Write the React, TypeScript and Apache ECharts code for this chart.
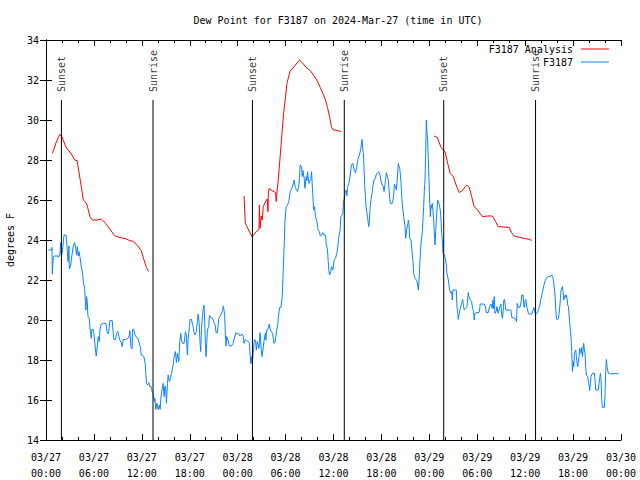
import React, { useEffect, useRef } from "react";
import * as echarts from "echarts";

const FONT = "DejaVu Sans Mono";

const titleText = "Dew Point for F3187 on 2024-Mar-27 (time in UTC)";
const yAxisName = "degrees F";

// x tick labels every 6 h from 03/27 00:00 UTC
const xTickLabels = [
  "03/27\n00:00", "03/27\n06:00", "03/27\n12:00", "03/27\n18:00",
  "03/28\n00:00", "03/28\n06:00", "03/28\n12:00", "03/28\n18:00",
  "03/29\n00:00", "03/29\n06:00", "03/29\n12:00", "03/29\n18:00",
  "03/30\n00:00",
];

// sun events, hours since 03/27 00:00 UTC
const sunHours = [1.93, 13.4, 25.85, 37.35, 49.8, 61.3];
const sunLabels = ["Sunset", "Sunrise", "Sunset", "Sunrise", "Sunset", "Sunrise"];

// F3187 Analysis, three segments: [hour, degF]
const analysisSeg1 = [
  [0.79, 28.33], [1.0, 28.55], [1.25, 28.85], [1.5, 29.1], [1.75, 29.28], [2.0, 29.15],
  [2.25, 28.9], [2.5, 28.65], [2.67, 28.55], [3.0, 28.4], [3.33, 28.2], [3.58, 28.0],
  [3.9, 27.97], [4.08, 27.5], [4.25, 27.08], [4.42, 26.67], [4.67, 26.0], [5.08, 25.83],
  [5.3, 25.5], [5.5, 25.17], [5.8, 25.0], [6.3, 25.0], [6.92, 25.05], [7.2, 24.95],
  [7.46, 24.83], [8.0, 24.55], [8.58, 24.22], [9.13, 24.13], [9.96, 24.07], [10.5, 23.97],
  [10.92, 23.93], [11.5, 23.7], [11.92, 23.47], [12.25, 23.03], [12.58, 22.62], [12.83, 22.42],
];
const analysisSeg2 = [
  [24.8, 26.2], [24.87, 25.53], [24.96, 24.83], [25.37, 24.5], [25.8, 24.17], [26.1, 24.3],
  [26.33, 24.42], [26.67, 24.53], [26.72, 25.75], [26.8, 24.6], [26.96, 25.2], [27.08, 25.0],
  [27.2, 25.67], [27.46, 25.9], [27.7, 26.05], [27.79, 25.42], [27.85, 26.4], [27.96, 26.58],
  [28.3, 26.47], [28.75, 26.37], [28.83, 25.92], [28.92, 26.4], [29.08, 27.0], [29.25, 27.83],
  [29.42, 28.67], [29.58, 29.5], [29.75, 30.33], [30.0, 31.17], [30.17, 31.83], [30.33, 32.08],
  [30.58, 32.47], [30.92, 32.58], [31.33, 32.8], [31.75, 33.0], [32.08, 32.87], [32.58, 32.63],
  [33.08, 32.47], [33.5, 32.25], [33.92, 32.0], [34.33, 31.63], [34.67, 31.33], [35.0, 31.0],
  [35.25, 30.63], [35.5, 30.17], [35.75, 29.63], [36.0, 29.5], [36.5, 29.47], [36.92, 29.43],
];
const analysisSeg3 = [
  [48.6, 29.2], [49.0, 29.13], [49.25, 28.85], [49.54, 28.58], [49.96, 28.42], [50.3, 27.83],
  [50.6, 27.33], [51.0, 27.17], [51.46, 26.63], [51.75, 26.37], [52.2, 26.5], [52.5, 26.67],
  [52.7, 26.75], [53.0, 26.63], [53.3, 26.17], [53.6, 25.67], [54.0, 25.53], [54.3, 25.35],
  [54.67, 25.17], [55.3, 25.2], [55.9, 25.2], [56.3, 24.92], [56.6, 24.67], [58.0, 24.63],
  [58.3, 24.37], [58.6, 24.2], [59.3, 24.13], [59.9, 24.08], [60.5, 24.03], [60.83, 23.98],
];

// F3187 observations: [hour, degF]
const observed = [
  [0.3, 23.5], [0.7, 23.5], [0.75, 23.63], [0.79, 22.3], [0.92, 23.17], [1.08, 23.2], [1.5, 23.2],
  [1.58, 23.13], [1.75, 23.33], [1.83, 23.87], [1.92, 23.2], [2.04, 23.37], [2.17, 23.87], [2.25, 24.25],
  [2.5, 24.25], [2.58, 24.0], [2.67, 23.42], [2.75, 22.92], [2.88, 23.7], [2.92, 22.55], [3.08, 22.7],
  [3.25, 23.25], [3.42, 23.7], [3.58, 23.87], [3.75, 23.53], [3.83, 23.25], [3.92, 23.67], [4.04, 23.2],
  [4.13, 23.42], [4.25, 23.17], [4.42, 22.67], [4.58, 22.33], [4.67, 21.92], [4.83, 21.58], [4.92, 21.0],
  [5.0, 20.5], [5.08, 21.17], [5.17, 20.92], [5.25, 20.17], [5.42, 20.08], [5.5, 19.63], [5.67, 19.08],
  [5.75, 19.53], [5.92, 19.53], [6.0, 19.33], [6.08, 19.0], [6.2, 18.5], [6.29, 18.2], [6.42, 18.67],
  [6.54, 19.17], [6.67, 18.92], [6.75, 19.5], [6.92, 19.8], [7.17, 19.83], [7.5, 19.83], [7.58, 19.58],
  [7.67, 19.33], [7.83, 19.33], [7.92, 19.7], [8.0, 19.97], [8.29, 19.97], [8.42, 19.33], [8.5, 19.03],
  [8.71, 19.03], [8.83, 19.33], [9.0, 19.43], [9.13, 19.17], [9.25, 19.0], [9.42, 18.87], [9.54, 18.67],
  [9.67, 19.03], [9.96, 19.03], [10.25, 19.07], [10.42, 19.2], [10.5, 19.47], [10.58, 19.0], [10.67, 18.58],
  [10.79, 18.58], [10.83, 19.53], [11.0, 19.53], [11.08, 19.33], [11.25, 19.17], [11.42, 19.13], [11.58, 19.0],
  [11.75, 18.7], [11.83, 18.67], [11.92, 18.25], [12.17, 18.2], [12.25, 18.17], [12.42, 17.83], [12.5, 17.33],
  [12.58, 16.83], [12.75, 16.75], [12.88, 16.87], [13.0, 16.67], [13.17, 16.67], [13.29, 16.42], [13.42, 16.33],
  [13.58, 15.92], [13.63, 16.08], [13.75, 15.53], [13.88, 15.83], [14.04, 15.53], [14.2, 15.75], [14.29, 15.53],
  [14.38, 16.08], [14.54, 16.58], [14.67, 16.83], [14.79, 16.17], [14.875, 16.67], [14.96, 16.7], [15.08, 15.83],
  [15.21, 16.83], [15.29, 17.25], [15.46, 16.92], [15.58, 17.08], [15.71, 17.33], [15.92, 17.75], [16.04, 18.17],
  [16.2, 18.42], [16.33, 17.87], [16.46, 18.33], [16.625, 17.92], [16.75, 18.92], [16.875, 19.33], [16.96, 19.0],
  [17.125, 18.83], [17.29, 18.83], [17.46, 19.42], [17.58, 19.2], [17.71, 18.25], [17.79, 19.0], [17.96, 19.67],
  [18.04, 20.03], [18.21, 20.03], [18.42, 19.67], [18.54, 19.37], [18.625, 19.25], [18.79, 19.37], [18.96, 19.92],
  [19.04, 20.3], [19.17, 19.92], [19.29, 18.83], [19.375, 18.42], [19.46, 19.5], [19.58, 20.17], [19.71, 20.58],
  [19.79, 20.75], [19.875, 19.83], [19.96, 18.83], [20.04, 18.17], [20.125, 18.83], [20.21, 19.5], [20.375, 19.67],
  [20.46, 20.23], [20.54, 20.2], [20.71, 20.08], [20.875, 20.08], [21.04, 19.87], [21.21, 19.7], [21.29, 19.37],
  [21.46, 19.37], [21.54, 19.67], [21.625, 20.08], [21.79, 20.17], [21.96, 20.33], [22.125, 20.47], [22.2, 20.7],
  [22.29, 20.5], [22.375, 20.17], [22.46, 19.33], [22.54, 18.7], [22.625, 19.17], [22.79, 19.0], [22.96, 18.7],
  [23.21, 18.7], [23.42, 18.83], [23.625, 19.17], [23.79, 19.37], [23.96, 19.3], [24.125, 19.33], [24.29, 19.2],
  [24.54, 19.3], [24.71, 19.17], [24.79, 18.83], [24.96, 19.03], [25.125, 18.97], [25.29, 18.92], [25.46, 18.87],
  [25.54, 18.42], [25.625, 17.83], [25.71, 18.17], [25.79, 17.83], [25.875, 18.0], [25.96, 18.37], [26.04, 18.83],
  [26.125, 19.03], [26.25, 18.97], [26.33, 18.5], [26.46, 18.92], [26.54, 18.8], [26.67, 18.58], [26.8, 19.37],
  [26.875, 19.0], [26.96, 18.5], [27.04, 18.17], [27.17, 18.5], [27.29, 18.92], [27.46, 19.33], [27.54, 19.0],
  [27.625, 19.5], [27.79, 19.53], [27.96, 19.8], [28.04, 19.58], [28.21, 19.42], [28.375, 19.33], [28.54, 18.83],
  [28.7, 18.9], [28.85, 19.4], [29.04, 19.83], [29.125, 20.25], [29.25, 20.63], [29.42, 20.63], [29.58, 21.17],
  [29.67, 22.08], [29.83, 23.83], [29.92, 24.92], [30.08, 25.67], [30.25, 25.75], [30.42, 25.97], [30.58, 26.42],
  [30.75, 26.53], [30.92, 26.75], [31.08, 27.0], [31.21, 26.63], [31.33, 26.53], [31.5, 26.42], [31.67, 26.75],
  [31.83, 27.75], [32.0, 27.67], [32.08, 27.17], [32.17, 27.47], [32.33, 27.08], [32.42, 26.58], [32.58, 27.17],
  [32.67, 26.97], [32.75, 27.42], [32.92, 26.83], [33.0, 26.92], [33.17, 27.03], [33.25, 27.42], [33.33, 26.83],
  [33.42, 26.17], [33.5, 25.5], [33.625, 25.67], [33.75, 25.17], [33.92, 24.92], [34.08, 24.5], [34.25, 24.42],
  [34.33, 24.2], [34.5, 24.25], [34.67, 24.37], [34.79, 24.25], [35.0, 24.25], [35.08, 23.83], [35.25, 23.5],
  [35.33, 23.0], [35.42, 22.5], [35.5, 22.25], [35.67, 22.42], [35.75, 22.67], [35.92, 22.5], [36.08, 23.0],
  [36.25, 23.08], [36.42, 23.33], [36.54, 23.67], [36.67, 24.17], [36.83, 24.5], [36.92, 25.17], [37.08, 25.25],
  [37.17, 25.33], [37.25, 25.92], [37.33, 26.03], [37.42, 26.33], [37.58, 26.5], [37.67, 26.2], [37.75, 26.63],
  [37.92, 26.83], [38.08, 27.2], [38.25, 27.75], [38.42, 27.83], [38.58, 27.5], [38.75, 27.37], [38.92, 27.67],
  [39.08, 28.08], [39.25, 28.25], [39.42, 28.58], [39.58, 29.03], [39.67, 28.5], [39.75, 28.33], [39.83, 27.5],
  [39.92, 26.67], [40.0, 26.17], [40.08, 25.67], [40.17, 25.37], [40.25, 25.17], [40.33, 24.92], [40.42, 24.67],
  [40.5, 25.0], [40.58, 25.58], [40.71, 26.08], [40.83, 26.33], [40.92, 26.67], [41.08, 27.0], [41.25, 27.08],
  [41.33, 27.25], [41.54, 27.37], [41.67, 27.42], [41.83, 27.25], [41.92, 27.0], [42.08, 26.75], [42.25, 26.67],
  [42.33, 26.42], [42.46, 26.8], [42.625, 27.37], [42.75, 27.17], [42.875, 27.0], [42.96, 26.5], [43.04, 26.08],
  [43.125, 25.83], [43.29, 25.8], [43.46, 26.0], [43.54, 26.3], [43.625, 26.8], [43.79, 26.63], [43.875, 26.5],
  [43.96, 26.92], [44.04, 27.42], [44.125, 27.83], [44.21, 27.67], [44.29, 27.58], [44.375, 27.25], [44.46, 26.83],
  [44.54, 26.17], [44.625, 25.75], [44.79, 25.17], [44.96, 24.67], [45.04, 24.08], [45.17, 24.53], [45.29, 24.75],
  [45.375, 25.0], [45.46, 24.75], [45.54, 24.08], [45.71, 24.0], [45.83, 23.42], [45.96, 22.92], [46.04, 22.33],
  [46.21, 22.08], [46.375, 22.0], [46.46, 21.92], [46.54, 21.75], [46.625, 21.5], [46.71, 22.0], [46.79, 22.67],
  [46.875, 23.33], [46.96, 23.83], [47.125, 24.42], [47.29, 25.67], [47.375, 26.5], [47.46, 27.0], [47.54, 28.33],
  [47.625, 30.0], [47.71, 29.33], [47.79, 28.92], [47.875, 28.0], [47.96, 27.0], [48.04, 26.0], [48.125, 25.17],
  [48.21, 25.75], [48.29, 25.58], [48.375, 25.83], [48.46, 25.42], [48.54, 25.0], [48.625, 24.33], [48.71, 23.75],
  [48.79, 24.42], [48.875, 25.0], [48.96, 25.5], [49.04, 26.0], [49.125, 26.0], [49.21, 25.83], [49.29, 25.67],
  [49.375, 25.5], [49.46, 25.0], [49.54, 24.33], [49.625, 24.0], [49.71, 23.33], [49.875, 23.25], [50.04, 23.0],
  [50.125, 22.75], [50.21, 22.33], [50.375, 22.0], [50.54, 21.5], [50.71, 21.33], [50.79, 21.42], [50.875, 21.0],
  [50.96, 21.5], [51.375, 21.5], [51.46, 20.67], [51.54, 20.42], [51.625, 20.03], [51.75, 20.33], [51.875, 20.58],
  [52.04, 20.83], [52.17, 21.03], [52.29, 20.67], [52.375, 20.5], [52.54, 20.58], [52.71, 20.67], [52.79, 21.0],
  [52.875, 21.37], [52.96, 21.17], [53.125, 21.0], [53.29, 20.92], [53.42, 20.58], [53.54, 20.42], [53.625, 20.0],
  [53.71, 20.33], [53.96, 20.37], [54.21, 20.37], [54.29, 20.5], [54.375, 20.8], [54.875, 20.8], [55.04, 20.67],
  [55.125, 20.37], [55.375, 20.37], [55.54, 20.67], [55.71, 20.8], [55.875, 20.58], [55.96, 21.0], [56.04, 20.58],
  [56.125, 21.17], [56.21, 20.33], [56.375, 20.42], [56.46, 20.67], [56.625, 20.33], [56.79, 20.58], [56.96, 20.8],
  [57.08, 20.17], [57.17, 20.08], [57.25, 20.5], [57.33, 21.0], [57.42, 21.03], [57.5, 20.75], [57.58, 20.5],
  [58.21, 20.5], [58.33, 20.13], [58.75, 20.08], [58.92, 19.92], [59.0, 20.83], [59.17, 20.63], [59.33, 20.63],
  [59.5, 20.92], [59.58, 21.25], [59.75, 21.25], [59.83, 20.67], [59.92, 20.63], [60.0, 20.97], [60.08, 21.03],
  [60.17, 20.75], [60.25, 20.58], [60.42, 20.3], [60.83, 20.3], [61.0, 20.5], [61.08, 20.63], [61.17, 20.5],
  [61.25, 20.33], [61.42, 20.3], [61.58, 20.42], [61.67, 20.53], [61.83, 20.75], [62.0, 21.08], [62.17, 21.42],
  [62.33, 21.7], [62.5, 21.97], [62.67, 22.08], [62.83, 22.17], [63.08, 22.17], [63.25, 22.2], [63.33, 22.25],
  [63.42, 22.17], [63.5, 22.08], [63.58, 21.83], [63.67, 21.5], [63.75, 21.17], [63.83, 20.5], [63.92, 20.08],
  [64.0, 20.0], [64.17, 20.08], [64.25, 20.33], [64.33, 20.67], [64.42, 21.08], [64.5, 21.5], [64.67, 21.67],
  [64.75, 21.42], [64.83, 21.0], [64.92, 21.08], [65.0, 21.25], [65.08, 21.13], [65.17, 21.25], [65.25, 21.08],
  [65.33, 20.75], [65.42, 20.67], [65.5, 20.25], [65.58, 19.83], [65.67, 19.42], [65.75, 19.08], [65.83, 18.42],
  [65.92, 17.42], [66.0, 17.92], [66.08, 17.67], [66.17, 18.33], [66.25, 18.42], [66.33, 18.5], [66.42, 18.17],
  [66.5, 17.83], [66.58, 17.67], [66.67, 17.92], [66.75, 18.17], [66.83, 18.58], [66.92, 18.42], [67.0, 18.33],
  [67.08, 18.63], [67.17, 18.17], [67.25, 18.5], [67.33, 18.83], [67.42, 18.5], [67.5, 18.33], [67.58, 17.67],
  [67.67, 17.25], [67.83, 17.17], [67.92, 16.92], [68.0, 16.75], [68.08, 16.47], [68.17, 16.83], [68.25, 17.17],
  [68.42, 17.33], [68.67, 17.33], [68.75, 17.0], [68.83, 16.5], [69.17, 16.5], [69.25, 16.83], [69.33, 17.08],
  [69.42, 17.33], [69.5, 17.08], [69.58, 16.03], [69.67, 15.63], [69.92, 15.63], [70.0, 16.25], [70.08, 17.42],
  [70.17, 18.03], [70.25, 17.67], [70.33, 17.5], [70.42, 17.33], [70.71, 17.3], [71.33, 17.33], [71.7, 17.3],
];

const X_MIN = 0;
const X_MAX = 72;
const X_STEP = 6;
const Y_MIN = 14;
const Y_MAX = 34;
const Y_STEP = 2;
const SUN_TOP = 31; // 85% of plot height

const RED = "#ff0000";
const BLUE = "#0a84ff";

export default function App() {
  const ref = useRef<HTMLDivElement>(null);

  useEffect(() => {
    if (!ref.current) return;
    const chart = echarts.init(ref.current, null, { renderer: "svg" });

    const analysisData: any[] = [
      ...analysisSeg1,
      [(analysisSeg1[analysisSeg1.length - 1][0] + analysisSeg2[0][0]) / 2, "-"],
      ...analysisSeg2,
      [(analysisSeg2[analysisSeg2.length - 1][0] + analysisSeg3[0][0]) / 2, "-"],
      ...analysisSeg3,
    ];

    const textBase = { fontFamily: FONT, fontSize: 10, color: "#000" };

    const baseX = {
      type: "value",
      min: X_MIN,
      max: X_MAX,
      interval: X_STEP,
      axisLine: { show: true, lineStyle: { color: "#000", width: 1 } },
      axisTick: { show: true, inside: true, length: 6, lineStyle: { color: "#000" } },
      minorTick: { show: true, splitNumber: 3, length: 3, lineStyle: { color: "#000" } },
      splitLine: { show: false },
      minorSplitLine: { show: false },
    };
    const baseY = {
      type: "value",
      min: Y_MIN,
      max: Y_MAX,
      interval: Y_STEP,
      axisLine: { show: true, lineStyle: { color: "#000", width: 1 } },
      axisTick: { show: true, inside: true, length: 6, lineStyle: { color: "#000" } },
      splitLine: { show: false },
    };

    const sunSeries = sunHours.map((h, i) => ({
      type: "line",
      name: "sun" + i,
      data: [[h, Y_MIN], [h, SUN_TOP]],
      symbol: "none",
      silent: true,
      z: 5,
      lineStyle: { color: "#000", width: 1 },
    }));

    chart.setOption({
      animation: false,
      backgroundColor: "#fff",
      textStyle: { fontFamily: FONT },
      title: {
        text: titleText,
        left: 333,
        top: 10,
        textAlign: "center",
        textStyle: { ...textBase, fontWeight: "normal" },
      },
      legend: [
        {
          data: ["F3187 Analysis"],
          right: 31,
          top: 44,
          padding: 0,
          align: "right",
          icon: "rect",
          itemWidth: 28,
          itemHeight: 1,
          textStyle: { ...textBase, padding: [0, 3, 0, 0] },
        },
        {
          data: ["F3187"],
          right: 31,
          top: 57,
          padding: 0,
          align: "right",
          icon: "rect",
          itemWidth: 28,
          itemHeight: 1,
          textStyle: { ...textBase, padding: [0, 3, 0, 0] },
        },
      ],
      grid: {
        left: 46,
        right: 19,
        top: 40,
        bottom: 40,
        containLabel: false,
        outerBoundsMode: "none",
      },
      xAxis: [
        {
          ...baseX,
          position: "bottom",
          axisLabel: {
            ...textBase,
            margin: 9,
            lineHeight: 16,
            formatter: (v: number) => xTickLabels[Math.round((v - X_MIN) / X_STEP)] ?? "",
          },
        },
        { ...baseX, position: "top", axisLabel: { show: false } },
      ],
      yAxis: [
        {
          ...baseY,
          position: "left",
          name: yAxisName,
          nameLocation: "middle",
          nameGap: 31,
          nameRotate: 90,
          nameTextStyle: textBase,
          axisLabel: { ...textBase, margin: 7 },
        },
        { ...baseY, position: "right", axisLabel: { show: false } },
      ],
      series: [
        {
          type: "line",
          name: "F3187 Analysis",
          data: analysisData,
          connectNulls: false,
          symbol: "none",
          z: 3,
          color: RED,
          lineStyle: { color: RED, width: 1 },
        },
        {
          type: "line",
          name: "F3187",
          data: observed,
          symbol: "none",
          z: 4,
          color: BLUE,
          lineStyle: { color: BLUE, width: 1 },
        },
        ...sunSeries,
        {
          type: "scatter",
          name: "sunLabels",
          data: sunHours.map((h, i) => ({ value: [h, SUN_TOP], name: sunLabels[i] })),
          symbolSize: 0,
          silent: true,
          z: 6,
          label: {
            show: true,
            position: "top",
            distance: 8,
            rotate: 90,
            align: "left",
            verticalAlign: "middle",
            formatter: (p: any) => p.name,
            ...textBase,
          },
        },
      ],
    });

    return () => chart.dispose();
  }, []);

  return (
    <div
      ref={ref}
      style={{ position: "fixed", left: 0, top: 0, width: 640, height: 480, background: "#fff" }}
    />
  );
}
